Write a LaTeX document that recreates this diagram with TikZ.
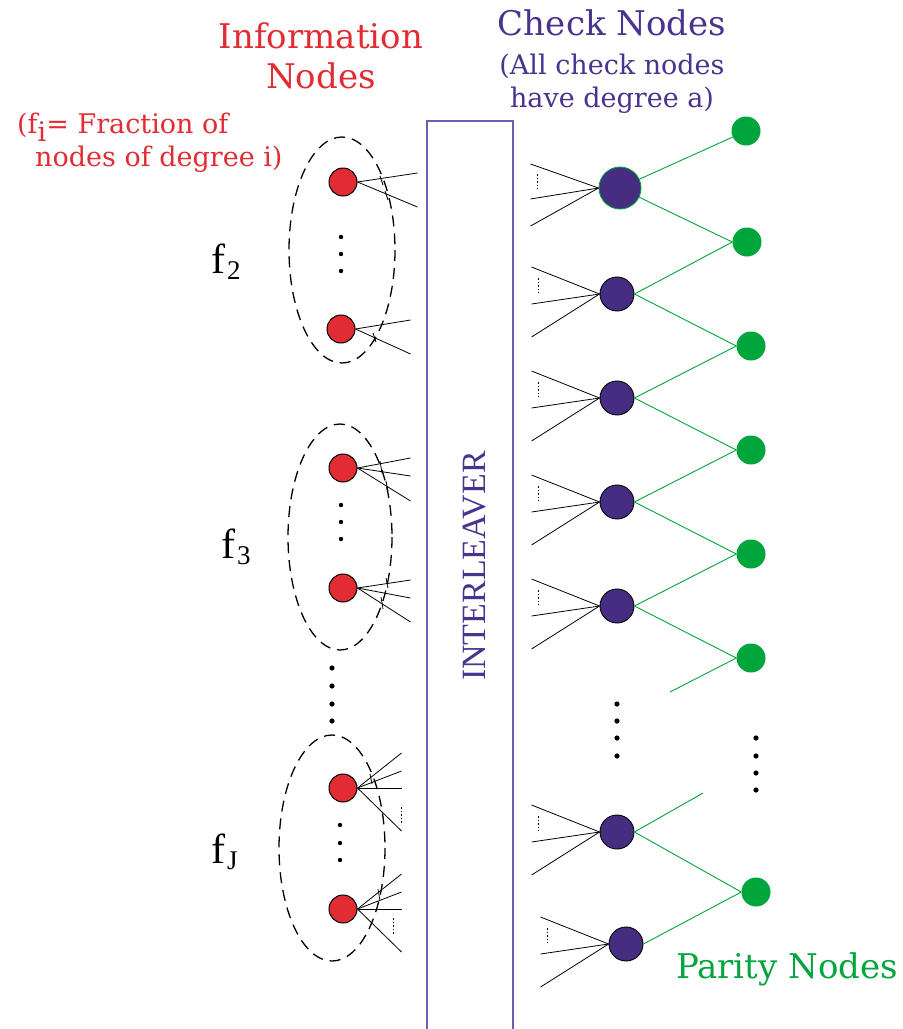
\documentclass[tikz,border=0pt]{standalone}
\usepackage{fontspec}
\usetikzlibrary{decorations.markings}
\newfontfamily\timesfont{Liberation Serif}
\newfontfamily\titlefont{DejaVu Serif}

\definecolor{infored}{RGB}{226,44,52}
\definecolor{chkpurple}{RGB}{70,45,130}
\definecolor{txtpurple}{RGB}{72,52,142}
\definecolor{pargreen}{RGB}{0,166,60}
\definecolor{ilvpurple}{RGB}{110,92,176}

\begin{document}
\begin{tikzpicture}[x=1pt,y=-1pt,
info/.style={circle,draw=black,fill=infored,line width=1pt,minimum size=28pt,inner sep=0pt},
chk/.style={circle,draw=black,fill=chkpurple,line width=0.9pt,minimum size=34pt,inner sep=0pt},
par/.style={circle,fill=pargreen,minimum size=29pt,inner sep=0pt},
wire/.style={line width=0.8pt},
gwire/.style={pargreen,line width=0.9pt},
grp/.style={dash pattern=on 11pt off 7pt,line width=1.3pt},
dotline/.style={dash pattern=on 1.5pt off 2pt,line width=0.6pt},
bigtxt/.style={font=\titlefont\fontsize{34}{40}\selectfont,inner sep=0pt},
smalltxt/.style={font=\titlefont\fontsize{27}{33}\selectfont,inner sep=0pt}]

\useasboundingbox (0,0) rectangle (903,1029);

% interleaver
\draw[ilvpurple,line width=1.3pt]
(427,1029)--(427,121)--(513,121)--(513,1029);

\node[rotate=90,txtpurple,inner sep=0pt,
font=\timesfont\fontsize{34}{34}\selectfont] (ilv) at (475,566){INTERLEAVER};

% information nodes
\draw[grp] (342,250) ellipse [x radius=53,y radius=113];
\draw[grp] (340,537) ellipse [x radius=52,y radius=113];
\draw[grp] (332,848) ellipse [x radius=53,y radius=113];

\node[info] (a1) at (343,182){};
\node[info] (a2) at (341,329){};
\node[info] (b1) at (343,468){};
\node[info] (b2) at (343,588){};
\node[info] (d1) at (343,788){};
\node[info] (d2) at (343,909){};

\draw[wire] (a1.east)--++(60,-9);
\draw[wire] (a1.east)--++(60,25);
\draw[wire] (a2.east)--++(55,-9);
\draw[wire] (a2.east)--++(55,25);

\draw[wire] (b1.east)--++(53,-10);
\draw[wire] (b1.east)--++(53,8);
\draw[wire] (b1.east)--++(53,33);
\draw[wire] (b2.east)--++(53,-8);
\draw[wire] (b2.east)--++(53,10);
\draw[wire] (b2.east)--++(53,34);

\draw[wire] (d1.east)--++(44,-35);
\draw[wire] (d1.east)--++(44,-17);
\draw[wire] (d1.east)--++(44,0);
\draw[wire] (d1.east)--++(44,43);
\draw[dotline] (401,807)--(401,823);
\draw[wire] (d2.east)--++(44,-35);
\draw[wire] (d2.east)--++(44,-17);
\draw[wire] (d2.east)--++(44,0);
\draw[wire] (d2.east)--++(44,43);
\draw[dotline] (393,918)--(393,935);

\draw[wire] (380,176)--(383,185);
\draw[wire] (385,191)--(388,200);
\draw[wire] (373,333)--(376,342);
\draw[wire] (380,461)--(382,473);
\draw[wire] (386,481)--(388,491);
\draw[wire] (386,578)--(388,588);
\draw[wire] (381,597)--(383,609);
\draw[wire] (370,774)--(372,784);
\draw[wire] (378,889)--(380,901);

\fill (341,237) circle (2.2pt);
\fill (341,254) circle (2.2pt);
\fill (341,271) circle (2.2pt);
\fill (341,505) circle (2.2pt);
\fill (341,522) circle (2.2pt);
\fill (341,539) circle (2.2pt);
\fill (340,825) circle (2.2pt);
\fill (340,843) circle (2.2pt);
\fill (340,860) circle (2.2pt);
\fill (332,668) circle (2.6pt);
\fill (332,686) circle (2.6pt);
\fill (332,704) circle (2.6pt);
\fill (332,721) circle (2.6pt);

\node[anchor=base west,inner sep=0pt,font=\timesfont\fontsize{42}{42}\selectfont]
(lf2) at (211,273){f\kern2pt\raisebox{-6pt}{\fontsize{27}{27}\selectfont 2}};
\node[anchor=base west,inner sep=0pt,font=\timesfont\fontsize{42}{42}\selectfont]
(lf3) at (221,558){f\kern2pt\raisebox{-6pt}{\fontsize{27}{27}\selectfont 3}};
\node[anchor=base west,inner sep=0pt,font=\timesfont\fontsize{42}{42}\selectfont]
(lfj) at (211,863){f\kern2pt\raisebox{-6pt}{\fontsize{27}{27}\selectfont J}};

% check nodes
\node[chk,draw=pargreen,minimum size=42pt] (c1) at (620,188){};
\node[chk] (c2) at (617,294){};
\node[chk] (c3) at (617,398){};
\node[chk] (c4) at (617,502){};
\node[chk] (c5) at (617,606){};
\node[chk] (c6) at (617,832){};
\node[chk] (c7) at (626,944){};

\draw[wire] (c1.west)--++(-68,-24);
\draw[wire] (c1.west)--++(-68,11);
\draw[wire] (c1.west)--++(-68,38);
\draw[dotline] (c1.west) ++(-61,-14)--++(0,15);
\draw[wire] (c2.west)--++(-68,-27);
\draw[wire] (c2.west)--++(-68,10);
\draw[wire] (c2.west)--++(-68,43);
\draw[dotline] (c2.west) ++(-61,-16)--++(0,15);
\draw[wire] (c3.west)--++(-68,-27);
\draw[wire] (c3.west)--++(-68,10);
\draw[wire] (c3.west)--++(-68,43);
\draw[dotline] (c3.west) ++(-61,-16)--++(0,15);
\draw[wire] (c4.west)--++(-68,-27);
\draw[wire] (c4.west)--++(-68,10);
\draw[wire] (c4.west)--++(-68,43);
\draw[dotline] (c4.west) ++(-61,-16)--++(0,15);
\draw[wire] (c5.west)--++(-68,-27);
\draw[wire] (c5.west)--++(-68,10);
\draw[wire] (c5.west)--++(-68,43);
\draw[dotline] (c5.west) ++(-61,-16)--++(0,15);
\draw[wire] (c6.west)--++(-68,-27);
\draw[wire] (c6.west)--++(-68,10);
\draw[wire] (c6.west)--++(-68,43);
\draw[dotline] (c6.west) ++(-61,-16)--++(0,15);
\draw[wire] (c7.west)--++(-68,-27);
\draw[wire] (c7.west)--++(-68,10);
\draw[wire] (c7.west)--++(-68,43);
\draw[dotline] (c7.west) ++(-61,-16)--++(0,15);

\fill (617,704) circle (2.6pt);
\fill (617,721) circle (2.6pt);
\fill (617,738) circle (2.6pt);
\fill (617,756) circle (2.6pt);

% parity nodes
\node[par] (p1) at (746,131){};
\node[par] (p2) at (747,242){};
\node[par] (p3) at (751,346){};
\node[par] (p4) at (751,450){};
\node[par] (p5) at (751,554){};
\node[par] (p6) at (751,658){};
\node[par] (p7) at (756,892){};

\coordinate (p6x) at (670,692);
\coordinate (c6x) at (703,793);

\draw[gwire] (c1)--(p1);
\draw[gwire] (c1)--(p2.west);
\draw[gwire] (c2.east)--(p2.west);
\draw[gwire] (c2.east)--(p3.west);
\draw[gwire] (c3.east)--(p3.west);
\draw[gwire] (c3.east)--(p4.west);
\draw[gwire] (c4.east)--(p4.west);
\draw[gwire] (c4.east)--(p5.west);
\draw[gwire] (c5.east)--(p5.west);
\draw[gwire] (c5.east)--(p6.west);
\draw[gwire] (p6.west)--(p6x);
\draw[gwire] (c6.east)--(c6x);
\draw[gwire] (c6.east)--(p7.west);
\draw[gwire] (c7.east)--(p7.west);

\fill (756,738) circle (2.6pt);
\fill (756,756) circle (2.6pt);
\fill (756,773) circle (2.6pt);
\fill (756,790) circle (2.6pt);

% titles
\node[bigtxt,infored,align=center] (infotitle) at (321,56){Information\\Nodes};
\node[smalltxt,infored,align=left,anchor=west] (infonote) at (17,143)
{(f\raisebox{-8pt}[0pt][0pt]{i}= Fraction of\\\hspace*{18pt}nodes of degree i)};

\node[bigtxt,txtpurple,anchor=base] (chktitle) at (612,35){Check Nodes};
\node[smalltxt,txtpurple,align=center] (chknote) at (612,84)
{(All check nodes\\have degree a)};

\node[bigtxt,pargreen,anchor=base] (partitle) at (787,978){Parity Nodes};

\end{tikzpicture}
\end{document}
